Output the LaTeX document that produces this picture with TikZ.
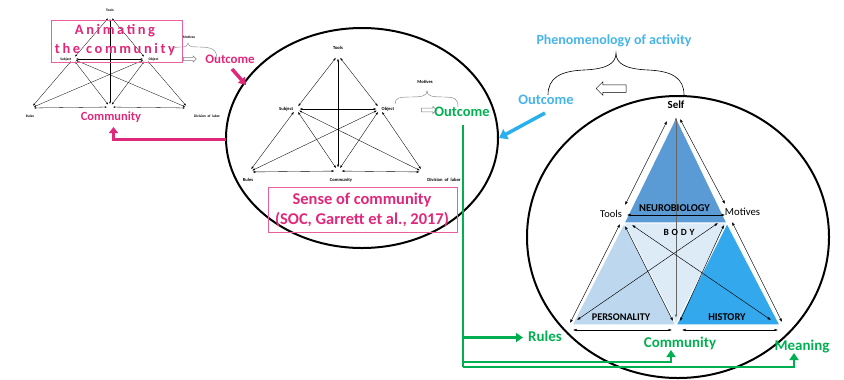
\documentclass[tikz,border=0pt]{standalone}
\usepackage{fontspec}
\setmainfont{Carlito}
\usetikzlibrary{arrows.meta,shapes.arrows,shapes.geometric,calc}
\definecolor{mag}{HTML}{E0287A}
\definecolor{pinkbox}{HTML}{E8609E}
\definecolor{grn}{HTML}{00B050}
\definecolor{cyn}{HTML}{2BB0EE}
\definecolor{cyntext}{HTML}{45B4EA}
\definecolor{tdark}{HTML}{5B9BD5}
\definecolor{tleft}{HTML}{BDD7EE}
\definecolor{tmid}{HTML}{DDEBF7}
\definecolor{tright}{HTML}{33A8EC}
\newcommand\fsz[1]{\fontsize{#1}{#1}\selectfont}
\newcommand\sysarrows[2]{%
  \draw[#2] (#1T) -- (#1S);
  \draw[#2] (#1T) -- (#1O);
  \draw[#2] (#1T) -- (#1C);
  \draw[#2] (#1S) -- (#1O);
  \draw[#2] (#1S) -- (#1R);
  \draw[#2] (#1S) -- (#1C);
  \draw[#2] (#1S) -- (#1D);
  \draw[#2] (#1O) -- (#1R);
  \draw[#2] (#1O) -- (#1C);
  \draw[#2] (#1O) -- (#1D);
  \draw[#2] (#1R) -- (#1C);
  \draw[#2] (#1C) -- (#1D);
}
\tikzset{
  smallarr/.style={{Latex[length=2.2bp,width=1.6bp]}-{Latex[length=2.2bp,width=1.6bp]}, line width=0.3bp, shorten >=3bp, shorten <=3bp},
  midarr/.style={{Latex[length=2.8bp,width=2bp]}-{Latex[length=2.8bp,width=2bp]}, line width=0.35bp, shorten >=3.5bp, shorten <=3.5bp},
  bigarr/.style={{Latex[length=3.5bp,width=2.6bp]}-{Latex[length=3.5bp,width=2.6bp]}, line width=0.45bp},
  tinylab/.style={font=\fsz{3.6}\bfseries, inner sep=0.5bp},
  midlab/.style={font=\fsz{4.6}\bfseries, inner sep=0.5bp},
  tri/.style={draw=white, line width=1.2bp},
  hollow/.style={single arrow, draw=gray, fill=white, line width=0.5bp, inner xsep=0pt},
  pinkframe/.style={draw=pinkbox, line width=0.8bp},
}
\begin{document}
\begin{tikzpicture}[x=1bp,y=-1bp]
\useasboundingbox (0,0) rectangle (844,379);

% ---------- left small activity system ----------
\coordinate (lT) at (110,16);
\coordinate (lS) at (73,59);
\coordinate (lO) at (146,59);
\coordinate (lR) at (31,108);
\coordinate (lC) at (110,107);
\coordinate (lD) at (188,108);
\sysarrows{l}{smallarr}
\node[tinylab] (ltools) at (110,10) {Tools};
\node[tinylab, anchor=east] (lsubj) at (72,59.5) {Subject};
\node[tinylab, anchor=west] (lobj) at (148,59.5) {Object};
\node[tinylab] (lrules) at (30,116) {Rules};
\node[tinylab] (ldiv) at (207,116) {Division\ \ of\ \ labor};
\node[tinylab] (lmot) at (189,37) {Motives};
\draw[gray, line width=0.4bp] (172,53) .. controls (172,47) and (176,47) .. (181,47) .. controls (186,47) and (188,46) .. (188,43) .. controls (188,46) and (191,47) .. (198,47) .. controls (212,47) and (217,49) .. (217,60);
\node[hollow, inner ysep=1.3bp, minimum height=13bp, single arrow head extend=1.5bp] (larrow) at (189,59) {};
\node[text=mag, font=\fsz{13}\bfseries] (lout) at (230,59) {Outcome};
\node[pinkframe, minimum width=131bp, minimum height=42bp, inner sep=0pt] (animbox) at (116.5,41) {};
\node[text=mag, font=\fsz{14.5}\bfseries\addfontfeatures{LetterSpace=18}, align=center, inner sep=0pt] (animtxt) at (115,40.5) {Animating\\[4.5bp]the community};
\node[text=mag, font=\fsz{12.5}\bfseries] (lcomm) at (111,117) {Community};

% ---------- middle ellipse ----------
\node[draw=black, line width=2bp, ellipse, minimum width=272bp, minimum height=220bp, inner sep=0pt] (midell) at (362,138) {};
\coordinate (mT) at (338,55);
\coordinate (mS) at (296,109);
\coordinate (mO) at (380,109);
\coordinate (mR) at (249,172);
\coordinate (mC) at (338,171);
\coordinate (mD) at (423,172);
\sysarrows{m}{midarr}
\node[midlab] (mtools) at (338,48) {Tools};
\node[midlab, anchor=east] (msubj) at (294,109.5) {Subject};
\node[midlab, anchor=west] (mobj) at (381,109.5) {Object};
\node[midlab] (mrules) at (248,180) {Rules};
\node[midlab] (mcomm) at (341,180) {Community};
\node[midlab] (mdiv) at (444,180) {Division\ \ of\ \ labor};
\node[midlab] (mmot) at (425,82) {Motives};
\draw[gray, line width=0.45bp] (395,104) .. controls (395,98) and (399,97) .. (410,97) .. controls (422,97) and (427,96) .. (427,91) .. controls (427,96) and (432,97) .. (444,97) .. controls (455,97) and (458,99) .. (458,107);
\node[hollow, inner ysep=1.6bp, minimum height=15bp, single arrow head extend=1.8bp] (marrow) at (428,110) {};
\node[text=grn, font=\fsz{14.5}\bfseries] (mout) at (462,112) {Outcome};
\node[pinkframe, minimum width=189bp, minimum height=45bp, inner sep=0pt] (socbox) at (362.5,209.5) {};
\node[text=mag, font=\fsz{16.5}\bfseries, align=center, inner sep=0pt] (soctxt) at (362,210) {Sense of community\\[3.5bp](SOC, Garrett et al., 2017)};

% magenta connectors
\coordinate (magstart) at (232,69);
\coordinate (magend) at (246,85);
\draw[mag, line width=3.5bp, -{Triangle[length=7bp,width=9bp]}] (magstart) -- (magend);
\coordinate (backstart) at (226,139.5);
\coordinate (backcorner) at (113.5,139.5);
\coordinate (backend) at (113.5,127);
\draw[mag, line width=3bp, -{Triangle[length=6bp,width=9bp]}] (backstart) -- (backcorner) -- (backend);

% ---------- right circle ----------
\node[draw=black, line width=2bp, ellipse, minimum width=302bp, minimum height=282bp, inner sep=0pt] (rcirc) at (678,237) {};
\coordinate (rS) at (676,117);
\coordinate (rT) at (624,223);
\coordinate (rM) at (727,223);
\coordinate (rL) at (572,325);
\coordinate (rC) at (676,325);
\coordinate (rR) at (780,325);
\fill[tmid] (rT) -- (rM) -- (rC) -- cycle;
\filldraw[tri, fill=tdark] (rS) -- (rT) -- (rM) -- cycle;
\filldraw[tri, fill=tleft] (rT) -- (rL) -- (rC) -- cycle;
\filldraw[tri, fill=tright] (rM) -- (rC) -- (rR) -- cycle;
\draw[gray!80!black, line width=0.9bp, {Latex[length=3.5bp,width=2.6bp]}-{Latex[length=3.5bp,width=2.6bp]}] (676,117) -- (676,318);
\draw[bigarr] (667,121) -- (625,205);
\draw[bigarr] (680,119) -- (725,204);
\draw[bigarr] (627,215) -- (725,215);
\draw[bigarr] (620,224) -- (570,323);
\draw[bigarr] (732,222) -- (782,322);
\draw[bigarr] (625,226) -- (673,321);
\draw[bigarr] (632,225) -- (771,320);
\draw[bigarr] (718,223) -- (577,320);
\draw[bigarr] (724,225) -- (680,321);
\draw[bigarr] (573,330) -- (672,330);
\draw[bigarr] (682,330) -- (778,330);
\node[font=\fsz{11}\bfseries, inner sep=0pt] (self) at (676,104.5) {Self};
\node[font=\fsz{10.5}, inner sep=0pt] (rtools) at (611,214) {Tools};
\node[font=\fsz{10.8}, inner sep=0pt] (rmot) at (742.5,212) {Motives};
\node[font=\fsz{10.5}\bfseries, inner sep=0pt] (neuro) at (674.5,208.5) {NEUROBIOLOGY};
\node[font=\fsz{9.5}\bfseries\addfontfeatures{LetterSpace=30}, inner sep=0pt] (body) at (679,232) {BODY};
\node[font=\fsz{10.3}\bfseries, inner sep=0pt] (pers) at (621,317) {PERSONALITY};
\node[font=\fsz{10.5}\bfseries, inner sep=0pt] (hist) at (727,317) {HISTORY};

% ---------- phenomenology ----------
\node[text=cyntext, font=\fsz{14}\bfseries] (phen) at (614,41) {Phenomenology of activity};
\draw[black, line width=0.6bp] (548,95) .. controls (548,78) and (560,71) .. (584,70) .. controls (606,69) and (616,64) .. (616,53) .. controls (616,64) and (626,69) .. (648,70) .. controls (672,71) and (684,78) .. (684,95);
\node[single arrow, draw=black, fill=white, line width=0.5bp, inner xsep=0pt, inner ysep=3.5bp, minimum height=30bp, single arrow head extend=3bp, shape border rotate=180] (rarrow) at (613,88.5) {};
\node[text=cyntext, font=\fsz{14.5}\bfseries] (cout) at (546,100) {Outcome};
\coordinate (cstart) at (545,113);
\draw[cyn, line width=3.5bp, -{Triangle[length=8bp,width=11bp]}] (cstart) -- (midell.east);

% ---------- green connectors ----------
\node[text=grn, font=\fsz{15}\bfseries] (grules) at (545,336) {Rules};
\node[text=grn, font=\fsz{15}\bfseries] (gcomm) at (680,343) {Community};
\node[text=grn, font=\fsz{15}\bfseries] (gmean) at (802,347) {Meaning};
\coordinate (gtop) at (463,125);
\coordinate (gbot) at (463,366.5);
\coordinate (gbranch) at (463,337.5);
\coordinate (gbranchend) at (523,337.5);
\coordinate (gb1) at (463,362);
\coordinate (gc1) at (671,362);
\coordinate (ge1) at (671,350);
\coordinate (gc2) at (794,366.5);
\coordinate (ge2) at (794,353);
\draw[grn, line width=2.5bp] (gtop) -- (gbot);
\draw[grn, line width=2.5bp, -{Triangle[length=7bp,width=9bp]}] (gbranch) -- (gbranchend);
\draw[grn, line width=2bp, -{Triangle[length=7bp,width=9bp]}] (gb1) -- (gc1) -- (ge1);
\draw[grn, line width=2bp, -{Triangle[length=7bp,width=9bp]}] (gbot) -- (gc2) -- (ge2);
\end{tikzpicture}
\end{document}
